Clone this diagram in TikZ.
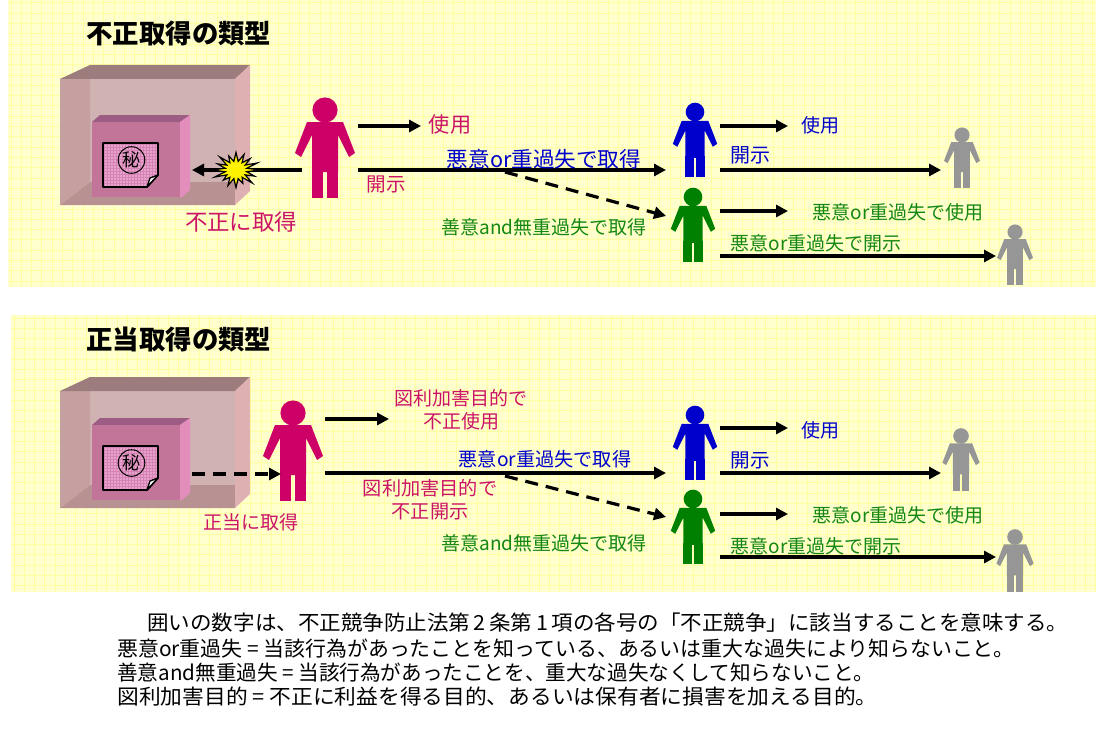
\documentclass[tikz,border=0pt]{standalone}
\usepackage{fontspec}
\usepackage{graphicx}
\setmainfont{Noto Sans CJK JP}
\usetikzlibrary{arrows.meta}

\definecolor{paper}{RGB}{255,255,206}
\definecolor{gridline}{RGB}{255,255,160}
\definecolor{magenta1}{RGB}{204,0,102}
\definecolor{magtext}{RGB}{204,20,102}
\definecolor{blue1}{RGB}{0,0,204}
\definecolor{green1}{RGB}{0,128,0}
\definecolor{greentext}{RGB}{20,135,20}
\definecolor{gray1}{RGB}{150,150,150}
\definecolor{boxtop}{RGB}{156,124,124}
\definecolor{boxleft}{RGB}{198,160,160}
\definecolor{boxback}{RGB}{208,178,178}
\definecolor{boxfloor}{RGB}{184,146,146}
\definecolor{boxright}{RGB}{222,176,178}
\definecolor{cubefront}{RGB}{194,116,153}
\definecolor{cubetop}{RGB}{156,92,132}
\definecolor{cuberight}{RGB}{227,141,189}
\definecolor{docfill}{RGB}{230,163,203}
\definecolor{docmesh}{RGB}{214,130,180}

\newcommand\fs[1]{\fontsize{#1}{#1}\selectfont}

\tikzset{
  flow/.style={line width=1.6pt, -{Triangle[length=6pt,width=6pt]}},
  dflow/.style={flow, dash pattern=on 6.5pt off 4pt},
  lbl/.style={inner sep=0pt, anchor=center},
  note/.style={lbl, anchor=west, font=\fs{10.4}},
  pics/person/.style={code={
    \fill[#1] (0,0) circle (12.6);
    \fill[#1] (-18,12) -- (18,12) -- (30,43) -- (24,47) -- (13,25) -- (13,62)
              -- (-13,62) -- (-13,25) -- (-24,47) -- (-30,43) -- cycle;
    \fill[#1] (-13,60) rectangle (-1.6,88);
    \fill[#1] (1.6,60) rectangle (13,88);
  }},
}

% yellow squared panel
\newcommand\drawpanel[4]{%
  \fill[paper] (#1,#2) rectangle (#3,#4);
  \begin{scope}
    \clip (#1,#2) rectangle (#3,#4);
    \foreach \k in {0,...,110} {\draw[gridline, line width=0.5pt] ({#1+3+\k*10.3},#2) -- ({#1+3+\k*10.3},#4);}
    \foreach \k in {0,...,30} {\draw[gridline, line width=0.5pt] (#1,{#2+3+\k*10.3}) -- (#3,{#2+3+\k*10.3});}
  \end{scope}}

% open cabinet holding the secret box and note
\newcommand\drawsafe[3]{%
  \begin{scope}[shift={(0,#1)}]
    \pgfmathsetmacro\F{#2+14}
    \fill[boxback] (90,\F) rectangle (235,182);
    \fill[boxleft] (60,\F) -- (90,\F) -- (90,182) -- (60,205) -- cycle;
    \fill[boxfloor] (60,205) -- (90,182) -- (235,182) -- (235,205) -- cycle;
    \fill[boxtop] (60,\F) -- (90,#2) -- (250,#2) -- (235,\F) -- cycle;
    \fill[boxright] (235,\F) -- (250,#2) -- (250,191) -- (235,205) -- cycle;
    \fill[cubetop] (92,122) -- (100,115) -- (190,115) -- (180,122) -- cycle;
    \fill[cubefront] (92,122) rectangle (180,197);
    \fill[cuberight] (180,122) -- (190,115) -- (190,190) -- (182,197) -- (180,197) -- cycle;
    \begin{scope}
      \clip (103,143) -- (158,143) -- (158,175) -- (147,187) -- (103,187) -- cycle;
      \fill[docfill] (103,143) rectangle (158,187);
      \foreach \k in {0,...,18} {
        \draw[docmesh, line width=0.3pt] ({104+\k*3},143) -- ++(0,44);
        \draw[docmesh, line width=0.3pt] (103,{144+\k*3}) -- ++(55,0);
      }
    \end{scope}
    \draw[line width=0.9pt, line join=round] (103,143) -- (158,143) -- (158,175) -- (147,187) -- (103,187) -- cycle;
    \filldraw[fill=white, line width=0.7pt, line join=round] (158,175) -- (147,187) -- (150,178) -- cycle;
    \draw[line width=0.5pt] (131.5,160) circle (13.3);
    \node[lbl, font=\fs{9}] (#3) at (131.5,160) {秘};
  \end{scope}}

\begin{document}
\begin{tikzpicture}[x=0.5pt, y=-0.5pt]
\useasboundingbox (0,0) rectangle (1096,733);
\fill[white] (0,0) rectangle (1096,733);

% ---------------- unlawful acquisition ----------------
\drawpanel{8}{0}{1096}{287}
\node[lbl, anchor=west, font=\fs{13.2}\bfseries] (title1) at (86,33) {不正取得の類型};
\drawsafe{0}{65}{secret1}

\pic at (325,110) {person=magenta1};
\pic[scale=0.74] at (695,112) {person=blue1};
\pic[scale=0.74] at (693,197) {person=green1};
\pic[scale=0.6] at (962,135) {person=gray1};
\pic[scale=0.6] at (1015,232) {person=gray1};

\coordinate (a-hand) at (302,170);
\coordinate (a-cube) at (192,170);
\coordinate (a-use0) at (358,126);
\coordinate (a-use1) at (421,126);
\coordinate (a-out)  at (358,170);
\coordinate (b-in)   at (666,170);
\coordinate (a-fork) at (505,172);
\coordinate (c-in)   at (666,216);
\coordinate (b-use0) at (720,126);
\coordinate (b-use1) at (788,126);
\coordinate (b-out)  at (720,170);
\coordinate (d-in)   at (941,170);
\coordinate (c-use0) at (720,211);
\coordinate (c-use1) at (788,211);
\coordinate (c-out)  at (720,256);
\coordinate (e-in)   at (996,256);

\draw[flow] (a-hand) -- (a-cube);
% burst where the cabinet is broken into
\begin{scope}[shift={(236,170)}, yscale=0.8]
  \filldraw[fill=yellow, line width=0.6pt, line join=miter] (0:24)
    \foreach \i/\r in {1/20,2/23,3/18,4/22,5/21,6/18,7/23,8/24,9/20,10/23,11/19,12/22,13/21,14/20,15/23}
      { -- ({\i*22.5-11.25}:11) -- ({\i*22.5}:\r) } -- (348.75:11) -- cycle;
\end{scope}

\draw[flow] (a-use0) -- (a-use1);
\draw[flow] (a-out) -- (b-in);
\draw[dflow] (a-fork) -- (c-in);
\draw[flow] (b-use0) -- (b-use1);
\draw[flow] (b-out) -- (d-in);
\draw[flow] (c-use0) -- (c-use1);
\draw[flow] (c-out) -- (e-in);

\node[lbl, text=magtext, font=\fs{11.2}] (l-take1) at (241,222) {不正に取得};
\node[lbl, text=magtext, font=\fs{10.6}] (l-use1) at (450,124) {使用};
\node[lbl, text=magtext, font=\fs{9.8}] (l-dis1) at (386,184) {開示};
\node[lbl, text=blue1, font=\fs{10.8}] (l-bad1) at (544,159) {悪意or重過失で取得};
\node[lbl, text=greentext, font=\fs{9.5}] (l-good1) at (544,227) {善意and無重過失で取得};
\node[lbl, text=blue1, font=\fs{9.5}] (l-buse1) at (820,125) {使用};
\node[lbl, text=blue1, font=\fs{10}] (l-bdis1) at (750,155) {開示};
\node[lbl, text=greentext, font=\fs{9.5}] (l-guse1) at (898,212) {悪意or重過失で使用};
\node[lbl, text=greentext, font=\fs{9.5}] (l-gdis1) at (816,243) {悪意or重過失で開示};

% ---------------- lawful acquisition ----------------
\drawpanel{11}{315}{1096}{592}
\node[lbl, anchor=west, font=\fs{13.2}\bfseries] (title2) at (86,339) {正当取得の類型};
\drawsafe{303}{74}{secret2}

\pic at (293,413) {person=magenta1};
\pic[scale=0.74] at (695,415) {person=blue1};
\pic[scale=0.74] at (693,499) {person=green1};
\pic[scale=0.62] at (961,436) {person=gray1};
\pic[scale=0.62] at (1015,537) {person=gray1};

\coordinate (p-cube) at (192,474);
\coordinate (p-hand) at (281,474);
\coordinate (p-use0) at (325,419);
\coordinate (p-use1) at (389,419);
\coordinate (p-out)  at (325,473);
\coordinate (q-in)   at (666,473);
\coordinate (p-fork) at (505,476);
\coordinate (r-in)   at (666,517);
\coordinate (q-use0) at (720,428);
\coordinate (q-use1) at (788,428);
\coordinate (q-out)  at (720,473);
\coordinate (s-in)   at (941,473);
\coordinate (r-use0) at (720,514);
\coordinate (r-use1) at (788,514);
\coordinate (r-out)  at (720,557);
\coordinate (t-in)   at (996,557);

\draw[dflow] (p-cube) -- (p-hand);
\draw[flow] (p-use0) -- (p-use1);
\draw[flow] (p-out) -- (q-in);
\draw[dflow] (p-fork) -- (r-in);
\draw[flow] (q-use0) -- (q-use1);
\draw[flow] (q-out) -- (s-in);
\draw[flow] (r-use0) -- (r-use1);
\draw[flow] (r-out) -- (t-in);

\node[lbl, text=magtext, font=\fs{9.5}] (l-take2) at (251,522) {正当に取得};
\node[lbl, text=magtext, font=\fs{9.5}, align=center] (l-use2) at (461,410)
  {\fs{9.5}図利加害目的で\\[2pt]不正使用};
\node[lbl, text=magtext, font=\fs{9.6}, align=center] (l-dis2) at (430,500)
  {\fs{9.6}図利加害目的で\\[2pt]不正開示};
\node[lbl, text=blue1, font=\fs{9.6}] (l-bad2) at (545,459) {悪意or重過失で取得};
\node[lbl, text=greentext, font=\fs{9.5}] (l-good2) at (544,543) {善意and無重過失で取得};
\node[lbl, text=blue1, font=\fs{9.5}] (l-buse2) at (820,430) {使用};
\node[lbl, text=blue1, font=\fs{9.8}] (l-bdis2) at (750,460) {開示};
\node[lbl, text=greentext, font=\fs{9.5}] (l-guse2) at (898,515) {悪意or重過失で使用};
\node[lbl, text=greentext, font=\fs{9.5}] (l-gdis2) at (816,546) {悪意or重過失で開示};

% ---------------- notes ----------------
\node[note] (n1) at (147,623)
  {\scalebox{1.035}[1]{囲いの数字は、不正競争防止法第\,2\,条第\,1\,項の各号の「不正競争」に該当することを意味する。}};
\node[note] (n2) at (117,649)
  {\scalebox{1.005}[1]{悪意or重過失 = 当該行為があったことを知っている、あるいは重大な過失により知らないこと。}};
\node[note] (n3) at (117,673)
  {\scalebox{0.99}[1]{善意and無重過失 = 当該行為があったことを、重大な過失なくして知らないこと。}};
\node[note] (n4) at (117,697)
  {\scalebox{1.045}[1]{図利加害目的 = 不正に利益を得る目的、あるいは保有者に損害を加える目的。}};
\end{tikzpicture}
\end{document}
